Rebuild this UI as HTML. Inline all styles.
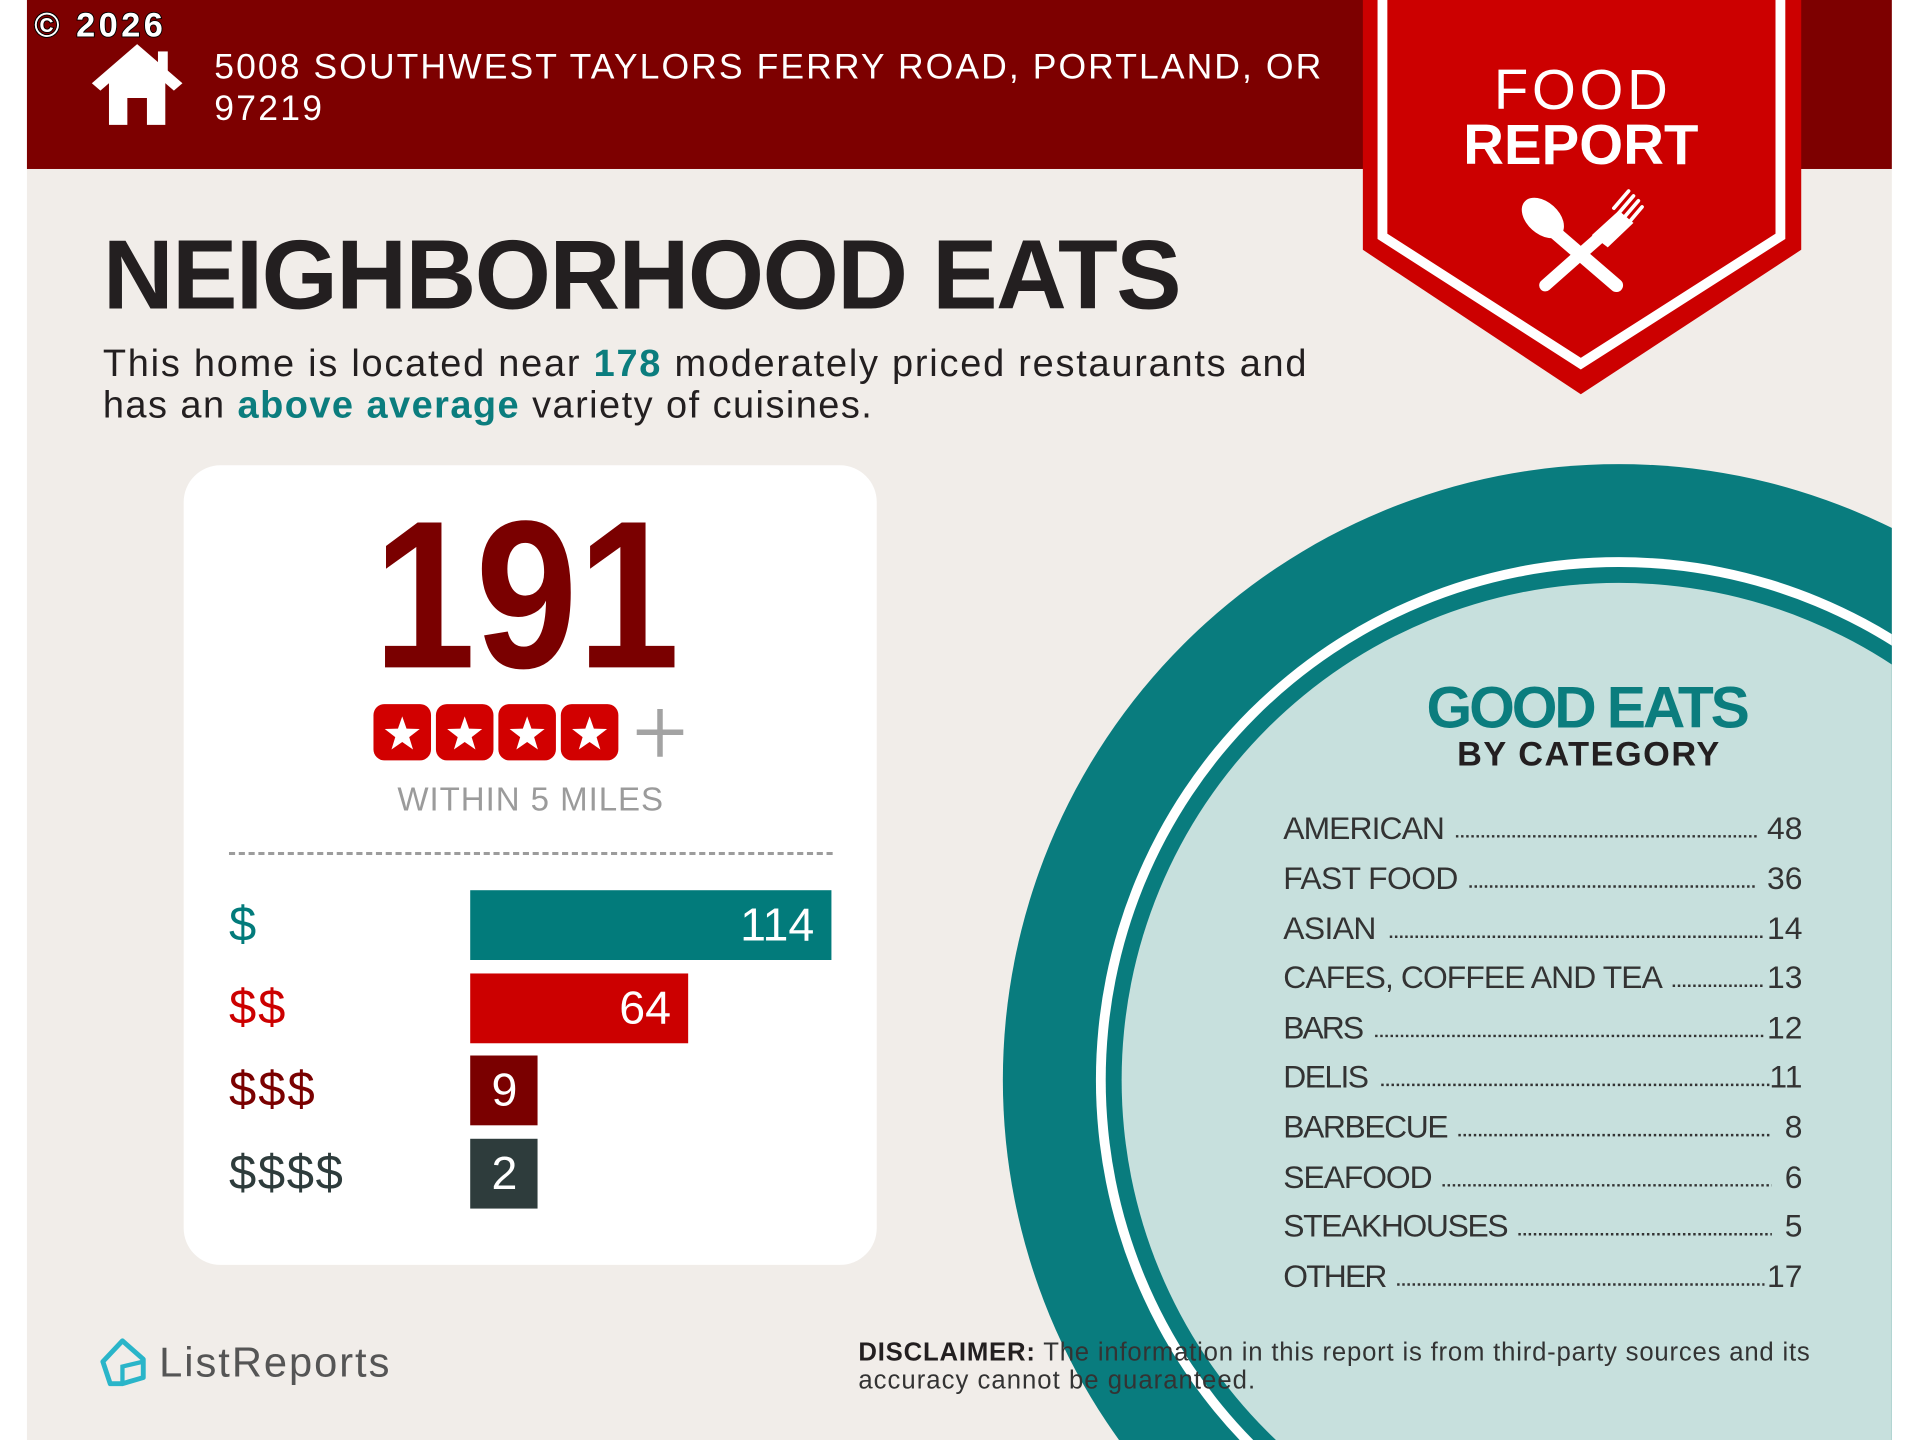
<!DOCTYPE html>
<html><head><meta charset="utf-8"><style>
html,body{margin:0;padding:0;background:#fff;width:1920px;height:1440px;overflow:hidden;position:relative}
svg{display:block;position:absolute;left:0;top:0}
text{font-family:"Liberation Sans",sans-serif}
</style></head><body>
<svg width="1920" height="1440" viewBox="0 0 1568 1176" xmlns="http://www.w3.org/2000/svg">
<defs>
<clipPath id="pg"><rect x="22" y="0" width="1523" height="1176"/></clipPath>
<g id="star"><polygon fill="#fff" points="0,-15 3.5,-5 14.3,-4.6 5.7,2 8.8,12.1 0,6 -8.8,12.1 -5.7,2 -14.3,-4.6 -3.5,-5"/></g>
</defs>
<rect x="22" y="0" width="1523" height="1176" fill="#f1ede9"/>
<rect x="22" y="0" width="1523" height="138" fill="#7d0000"/>

<!-- circle -->
<g clip-path="url(#pg)">
<circle cx="1322" cy="882" r="503" fill="#097c7e"/>
<circle cx="1322" cy="882" r="427" fill="#ffffff"/>
<circle cx="1322" cy="882" r="419" fill="#097c7e"/>
<circle cx="1322" cy="882" r="406" fill="#c7e0dd"/>
</g>

<!-- copyright -->
<text x="28" y="30" font-size="28" font-weight="bold" fill="#fff" stroke="#000" stroke-width="1.5" paint-order="stroke" textLength="105">© 2026</text>

<!-- house -->
<g fill="#fff">
<polygon points="75,68 112,36 149,68 142,74 112,48 82,74"/>
<rect x="129" y="42" width="8" height="18"/>
<path d="M89,66 L112,47 L135,66 L135,102 L120,102 L120,80 L104,80 L104,102 L89,102 Z"/>
</g>
<text x="175" y="64" font-size="29" fill="#fff" textLength="904">5008 SOUTHWEST TAYLORS FERRY ROAD, PORTLAND, OR</text>
<text x="175" y="98" font-size="29" fill="#fff" textLength="88">97219</text>

<!-- badge -->
<polygon points="1113,0 1471,0 1471,204 1291,322 1113,204" fill="#cc0000"/>
<polyline points="1129,0 1129,193 1291,297 1454,193 1454,0" fill="none" stroke="#fff" stroke-width="8"/>
<text x="1291" y="89" font-size="46" fill="#fff" text-anchor="middle" textLength="142">FOOD</text>
<text x="1291" y="134" font-size="46" font-weight="bold" fill="#fff" text-anchor="middle" textLength="192">REPORT</text>
<g stroke="#fff" stroke-linecap="round" fill="#fff">
<line x1="1270" y1="190" x2="1320" y2="233" stroke-width="11"/>
<ellipse cx="1260" cy="178" rx="13" ry="20" transform="rotate(-48 1260 178)" stroke="none"/>
<line x1="1262" y1="233" x2="1305" y2="195" stroke-width="10"/>
<path d="M1300,192 L1322,172 L1334,182 L1313,202 Z" stroke="none"/>
<g stroke-width="3"><line x1="1318" y1="170" x2="1330" y2="156"/><line x1="1322" y1="174" x2="1334" y2="160"/><line x1="1326" y1="178" x2="1338" y2="164"/><line x1="1330" y1="182" x2="1341" y2="169"/></g>
</g>

<!-- title -->
<text x="84" y="252" font-size="80" font-weight="bold" fill="#231f20" textLength="881">NEIGHBORHOOD EATS</text>
<text x="84" y="307" font-size="31" fill="#231f20" textLength="983">This home is located near <tspan fill="#0b7d7e" font-weight="bold">178</tspan> moderately priced restaurants and</text>
<text x="84" y="341" font-size="31" fill="#231f20" textLength="628">has an <tspan fill="#0b7d7e" font-weight="bold">above average</tspan> variety of cuisines.</text>

<!-- card -->
<rect x="150" y="380" width="566" height="653" rx="30" fill="#fff"/>
<text x="305" y="545" font-size="172" font-weight="bold" fill="#7a0000" textLength="250" lengthAdjust="spacingAndGlyphs">191</text>
<g fill="#d20000">
<rect x="305" y="575" width="47" height="46" rx="9"/>
<rect x="356" y="575" width="47" height="46" rx="9"/>
<rect x="407" y="575" width="47" height="46" rx="9"/>
<rect x="458" y="575" width="47" height="46" rx="9"/>
</g>
<use href="#star" x="328.5" y="600"/><use href="#star" x="379.5" y="600"/><use href="#star" x="430.5" y="600"/><use href="#star" x="481.5" y="600"/>
<g stroke="#a3a3a3" stroke-width="4.5"><line x1="520" y1="598" x2="558" y2="598"/><line x1="539" y1="579" x2="539" y2="618"/></g>
<text x="433" y="662" font-size="27" fill="#9b9b9b" text-anchor="middle" textLength="217">WITHIN 5 MILES</text>
<line x1="187" y1="697" x2="680" y2="697" stroke="#9c9c9c" stroke-width="2.5" stroke-dasharray="5 3"/>

<rect x="384" y="727" width="295" height="57" fill="#027b7b"/>
<rect x="384" y="795" width="178" height="57" fill="#cc0000"/>
<rect x="384" y="862" width="55" height="57" fill="#7a0000"/>
<rect x="384" y="930" width="55" height="57" fill="#2e3c3c"/>
<g font-size="38" fill="#fff">
<text x="665" y="768" text-anchor="end">114</text>
<text x="548" y="836" text-anchor="end">64</text>
<text x="412" y="903" text-anchor="middle">9</text>
<text x="412" y="971" text-anchor="middle">2</text>
</g>
<g font-size="40">
<text x="187" y="768" fill="#027b7b">$</text>
<text x="187" y="836" fill="#cc0000" textLength="46">$$</text>
<text x="187" y="903" fill="#7a0000" textLength="70">$$$</text>
<text x="187" y="971" fill="#2e3c3c" textLength="93">$$$$</text>
</g>

<!-- good eats -->
<text x="1297" y="594" font-size="48" font-weight="bold" fill="#0b7d7e" text-anchor="middle" textLength="264">GOOD EATS</text>
<text x="1297" y="625" font-size="28" font-weight="bold" fill="#231f20" text-anchor="middle" textLength="214">BY CATEGORY</text>
<g font-size="26" fill="#333">
<text x="1048" y="685" textLength="132">AMERICAN</text><text x="1472" y="685" text-anchor="end">48</text>
<text x="1048" y="726" textLength="143">FAST FOOD</text><text x="1472" y="726" text-anchor="end">36</text>
<text x="1048" y="767" textLength="76">ASIAN</text><text x="1472" y="767" text-anchor="end">14</text>
<text x="1048" y="807" textLength="310">CAFES, COFFEE AND TEA</text><text x="1472" y="807" text-anchor="end">13</text>
<text x="1048" y="848" textLength="66">BARS</text><text x="1472" y="848" text-anchor="end">12</text>
<text x="1048" y="888" textLength="70">DELIS</text><text x="1472" y="888" text-anchor="end">11</text>
<text x="1048" y="929" textLength="135">BARBECUE</text><text x="1472" y="929" text-anchor="end">8</text>
<text x="1048" y="970" textLength="122">SEAFOOD</text><text x="1472" y="970" text-anchor="end">6</text>
<text x="1048" y="1010" textLength="184">STEAKHOUSES</text><text x="1472" y="1010" text-anchor="end">5</text>
<text x="1048" y="1051" textLength="85">OTHER</text><text x="1472" y="1051" text-anchor="end">17</text>
</g>
<g stroke="#333" stroke-width="2" stroke-dasharray="2 2.2">
<line x1="1189" y1="683" x2="1435" y2="683"/>
<line x1="1200" y1="724" x2="1435" y2="724"/>
<line x1="1135" y1="765" x2="1441" y2="765"/>
<line x1="1366" y1="805" x2="1441" y2="805"/>
<line x1="1123" y1="846" x2="1441" y2="846"/>
<line x1="1128" y1="886" x2="1447" y2="886"/>
<line x1="1191" y1="927" x2="1447" y2="927"/>
<line x1="1178" y1="968" x2="1447" y2="968"/>
<line x1="1240" y1="1008" x2="1447" y2="1008"/>
<line x1="1141" y1="1049" x2="1441" y2="1049"/>
</g>

<!-- logo -->
<path d="M84,1112 L100,1095 L117,1110 L117,1125 L100,1130 L90,1130 Z" fill="none" stroke="#2ab5c9" stroke-width="4" stroke-linejoin="round"/>
<path d="M100,1130 L100,1116 L117,1112" fill="none" stroke="#2ab5c9" stroke-width="3.5"/>
<text x="130" y="1124" font-size="34" fill="#555" textLength="188">ListReports</text>

<!-- disclaimer -->
<text x="701" y="1111" font-size="21" fill="#333" textLength="777"><tspan font-weight="bold" fill="#231f20">DISCLAIMER:</tspan> The information in this report is from third-party sources and its</text>
<text x="701" y="1134" font-size="21" fill="#333" textLength="324">accuracy cannot be guaranteed.</text>
</svg>
</body></html>
